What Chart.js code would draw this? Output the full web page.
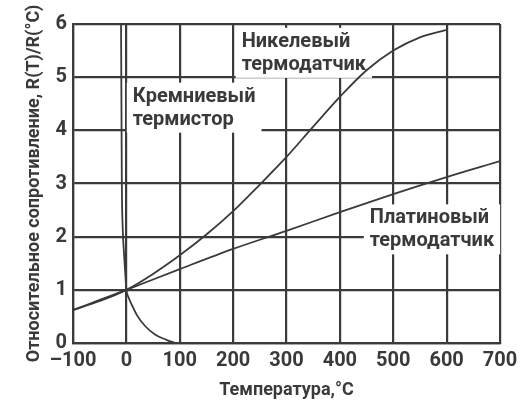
<!DOCTYPE html>
<html>
<head>
<meta charset="utf-8">
<script src="https://cdn.jsdelivr.net/npm/chart.js@4.4.0/dist/chart.umd.min.js"></script>
<style>
  html, body { margin: 0; padding: 0; background: #fff; }
</style>
</head>
<body>
<canvas id="chart" width="525" height="404"></canvas>
<script>
// Температура, °C и относительное сопротивление R(T)/R(0 °C)
const xTicks = [-100, 0, 100, 200, 300, 400, 500, 600, 700];
const yTicks = [0, 1, 2, 3, 4, 5, 6];

// Кремниевый термистор
const siliconT = [-10, -9.5, -9, -8.5, -7, -4.5, -2, 0, 4, 10, 20, 35, 55, 75, 91];
const siliconR = [6.0, 5.0, 4.0, 3.0, 2.2, 1.7, 1.3, 1.0, 0.86, 0.72, 0.52, 0.32, 0.15, 0.06, 0.0];

// Никелевый термодатчик
const nickelT = [-100, -50, 0, 50, 100, 150, 200, 250, 300, 350, 400, 450, 500, 550, 600];
const nickelR = [0.62, 0.79, 1.0, 1.3, 1.65, 2.04, 2.48, 2.98, 3.5, 4.07, 4.63, 5.13, 5.5, 5.75, 5.89];

// Платиновый термодатчик
const platinumT = [-100, -50, 0, 100, 200, 300, 400, 500, 600, 700];
const platinumR = [0.62, 0.81, 1.0, 1.39, 1.77, 2.11, 2.46, 2.8, 3.12, 3.42];

// Подписи кривых
const curveLabels = [
    { lines: ['Никелевый', 'термодатчик'], t: 216, r: 5.57 },
    { lines: ['Кремниевый', 'термистор'], t: 12, r: 4.54 },
    { lines: ['Платиновый', 'термодатчик'], t: 456, r: 2.25 }
];

const ink = '#3a3a3a';
const fontFamily = "Roboto, 'Liberation Sans', sans-serif";

function toPoints(xs, ys) {
    return xs.map((x, i) => ({ x: x, y: ys[i] }));
}

function curve(label, xs, ys) {
    return {
        label: label,
        data: toPoints(xs, ys),
        borderColor: ink,
        borderWidth: 1.8,
        pointRadius: 0,
        fill: false,
        cubicInterpolationMode: 'monotone'
    };
}

// Подписи с белой подложкой поверх сетки
const labelPlugin = {
    id: 'curveLabels',
    beforeDatasetsDraw(chart) {
        const { ctx, scales: { x, y } } = chart;
        ctx.save();
        ctx.font = `bold 20px ${fontFamily}`;
        ctx.fillStyle = '#fff';
        curveLabels.forEach(l => {
            const px = x.getPixelForValue(l.t);
            const py = y.getPixelForValue(l.r);
            const w = Math.max(...l.lines.map(s => ctx.measureText(s).width));
            ctx.fillRect(px - 6, py - 19, w + 12, 22 * l.lines.length + 6);
        });
        ctx.restore();
    },
    afterDatasetsDraw(chart) {
        const { ctx, scales: { x, y } } = chart;
        ctx.save();
        ctx.font = `bold 20px ${fontFamily}`;
        ctx.fillStyle = ink;
        ctx.textBaseline = 'alphabetic';
        curveLabels.forEach(l => {
            const px = x.getPixelForValue(l.t);
            const py = y.getPixelForValue(l.r);
            l.lines.forEach((s, i) => ctx.fillText(s, px, py + i * 23));
        });
        ctx.restore();
    }
};

function main() {
    new Chart(document.getElementById('chart').getContext('2d'), {
        type: 'line',
        data: {
            datasets: [
                curve('Кремниевый термистор', siliconT, siliconR),
                curve('Никелевый термодатчик', nickelT, nickelR),
                curve('Платиновый термодатчик', platinumT, platinumR)
            ]
        },
        options: {
            responsive: false,
            animation: false,
            devicePixelRatio: 1,
            layout: { padding: { left: 0, right: 25, top: 24, bottom: 0 } },
            plugins: { legend: { display: false }, tooltip: { enabled: false } },
            scales: {
                x: {
                    type: 'linear',
                    min: xTicks[0],
                    max: xTicks[xTicks.length - 1],
                    afterBuildTicks: s => { s.ticks = xTicks.map(v => ({ value: v })); },
                    afterFit: s => { s.height = 61; },
                    grid: { color: ink, lineWidth: 2.2, drawTicks: false },
                    border: { color: ink, width: 2.2 },
                    ticks: {
                        color: ink, padding: 6,
                        font: { family: fontFamily, size: 20, weight: 'bold' },
                        callback: v => v < 0 ? '–' + Math.abs(v) : String(v)
                    },
                    title: {
                        display: true, text: 'Температура,°C', color: ink,
                        padding: { top: 0, bottom: 3 },
                        font: { family: fontFamily, size: 18, weight: 'bold' }
                    }
                },
                y: {
                    min: yTicks[0],
                    max: yTicks[yTicks.length - 1],
                    afterBuildTicks: s => { s.ticks = yTicks.map(v => ({ value: v })); },
                    afterFit: s => { s.width = 73; },
                    grid: { color: ink, lineWidth: 2.2, drawTicks: false },
                    border: { color: ink, width: 2.2 },
                    ticks: {
                        color: ink, padding: 6,
                        font: { family: fontFamily, size: 20, weight: 'bold' }
                    },
                    title: {
                        display: true, text: 'Относительное сопротивление, R(T)/R(°C)', color: ink,
                        padding: { top: 24, bottom: 0 },
                        font: { family: fontFamily, size: 18, weight: 'bold' }
                    }
                }
            }
        },
        plugins: [labelPlugin]
    });
}

window.addEventListener('DOMContentLoaded', main);
</script>
</body>
</html>
